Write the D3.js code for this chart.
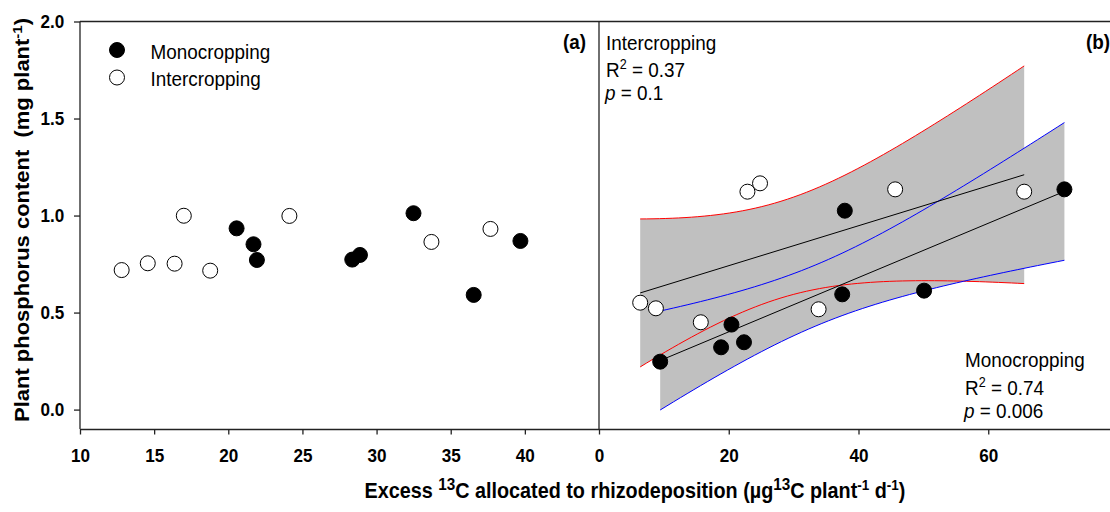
<!DOCTYPE html>
<meta charset="utf-8">
<html>
<head>
    <title>Plant P vs rhizodeposition</title>
    <script src="https://cdn.jsdelivr.net/npm/d3@7"></script>
</head>
<style>
    body{ margin:0; background:#fff; }
    svg{ display:block; }
    text{ font-family: "Liberation Sans", Arial, sans-serif; fill:#000; }
    .tick text{ font-weight: bold; font-size: 19px; }
    .domain, .tick line{ stroke:#222; stroke-width:1.3px; }
    .lbl{ font-size: 21px; }
    .ttl{ font-weight: bold; font-size: 22px; white-space: pre; }
</style>
<body>
<svg width="1110" height="512"></svg>
<script>
    // ---- data ----
    // panel (a)
    const aMonoX  = [20.56, 21.70, 21.93, 28.36, 28.88, 32.49, 36.55, 39.70];
    const aMonoY  = [0.934, 0.852, 0.771, 0.773, 0.797, 1.012, 0.591, 0.869];
    const aInterX = [12.81, 14.57, 16.38, 17.00, 18.78, 24.12, 33.70, 37.68];
    const aInterY = [0.719, 0.754, 0.752, 0.999, 0.716, 0.998, 0.864, 0.931];
    // panel (b)
    const bInterX = [6.35, 8.77, 15.69, 22.88, 24.82, 33.85, 45.65, 65.54];
    const bInterY = [0.551, 0.522, 0.450, 1.123, 1.166, 0.517, 1.135, 1.123];
    const bMonoX  = [9.43, 18.82, 20.42, 22.35, 37.49, 37.89, 50.11, 71.74];
    const bMonoY  = [0.247, 0.321, 0.438, 0.347, 0.594, 1.025, 0.613, 1.135];
    // ticks
    const yTicks  = [0, 0.5, 1.0, 1.5, 2.0];
    const xTicksA = [10, 15, 20, 25, 30, 35, 40];
    const xTicksB = [0, 20, 40, 60];
    const legendLabels = ["Monocropping", "Intercropping"];

    const svg = d3.select("svg");
    const yTop = 21.5, yBot = 429;
    const sx = 0.9;   // the original figure is a bit squeezed sideways

    const y  = d3.scaleLinear().domain([-0.1, 2.0]).range([yBot, yTop]);
    const xA = d3.scaleLinear().domain([10, 45]).range([80, 599]);
    const xB = d3.scaleLinear().domain([0, 80]).range([599, 1118]);

    // ***************************************
    //        regression + 95% confidence band
    // ***************************************
    function fit(xs, ys){
        const n = xs.length;
        const mx = d3.mean(xs), my = d3.mean(ys);
        let sxx = 0, sxy = 0, syy = 0;
        xs.forEach((v,i)=>{ sxx += (v-mx)**2; sxy += (v-mx)*(ys[i]-my); syy += (ys[i]-my)**2; });
        const b = sxy/sxx, a = my - b*mx;
        const s = Math.sqrt((syy - b*sxy)/(n-2));
        const t = 2.4469; // t(0.975, 6)
        const x0 = d3.min(xs), x1 = d3.max(xs);
        const band = d3.range(0, 61).map(k=>{
            const xv = x0 + (x1-x0)*k/60;
            const yh = a + b*xv;
            const se = s*Math.sqrt(1/n + (xv-mx)**2/sxx);
            return {x: xv, lo: yh - t*se, hi: yh + t*se};
        });
        return {a, b, x0, x1, band};
    }
    const fInter = fit(bInterX, bInterY);
    const fMono  = fit(bMonoX, bMonoY);

    const gB = svg.append("g");
    gB.append("clipPath").attr("id","clipB").append("rect")
        .attr("x", 599).attr("y", yTop).attr("width", 520).attr("height", yBot-yTop);
    const plotB = gB.append("g").attr("clip-path","url(#clipB)");

    const area = d3.area().x(d=>xB(d.x)).y0(d=>y(d.lo)).y1(d=>y(d.hi));
    [fInter, fMono].forEach(f=>{
        plotB.append("path").datum(f.band).attr("d", area).attr("fill", "#c0c0c0");
    });
    const lineHi = d3.line().x(d=>xB(d.x)).y(d=>y(d.hi));
    const lineLo = d3.line().x(d=>xB(d.x)).y(d=>y(d.lo));
    [[fInter, "#ff0000"], [fMono, "#0000ff"]].forEach(([f, c])=>{
        plotB.append("path").datum(f.band).attr("d", lineHi).attr("fill","none").attr("stroke", c).attr("stroke-width", 1);
        plotB.append("path").datum(f.band).attr("d", lineLo).attr("fill","none").attr("stroke", c).attr("stroke-width", 1);
    });
    [fInter, fMono].forEach(f=>{
        plotB.append("line")
            .attr("x1", xB(f.x0)).attr("y1", y(f.a + f.b*f.x0))
            .attr("x2", xB(f.x1)).attr("y2", y(f.a + f.b*f.x1))
            .attr("stroke", "#000").attr("stroke-width", 1);
    });

    // points
    const r = 7.5;
    function dots(g, xs, ys, xs_scale, filled){
        g.selectAll(null).data(xs).join("circle")
            .attr("cx", d=>xs_scale(d)).attr("cy", (d,i)=>y(ys[i]))
            .attr("r", r)
            .attr("fill", filled ? "#000" : "#fff")
            .attr("stroke", "#000").attr("stroke-width", 1);
    }
    dots(plotB, bInterX, bInterY, xB, false);
    dots(plotB, bMonoX, bMonoY, xB, true);

    const gA = svg.append("g");
    dots(gA, aInterX, aInterY, xA, false);
    dots(gA, aMonoX, aMonoY, xA, true);

    // ***************************************
    //        axes and frame
    // ***************************************
    svg.append("line").attr("x1", 80).attr("x2", 1110).attr("y1", yTop).attr("y2", yTop)
        .attr("stroke", "#222").attr("stroke-width", 1.3);
    svg.append("line").attr("x1", 599).attr("x2", 599).attr("y1", yTop).attr("y2", yBot)
        .attr("stroke", "#222").attr("stroke-width", 1.3);

    const yAxis = svg.append("g").attr("transform", "translate(80,0)")
        .call(d3.axisLeft(y).tickValues(yTicks).tickFormat(d3.format(".1f")).tickSize(6).tickSizeOuter(0));
    yAxis.selectAll(".tick text").attr("x", -17.5).attr("transform", `scale(${sx},1)`);

    const xAxisA = svg.append("g").attr("transform", `translate(0,${yBot})`)
        .call(d3.axisBottom(xA).tickValues(xTicksA).tickSize(5.5).tickSizeOuter(0));
    const xAxisB = svg.append("g").attr("transform", `translate(0,${yBot})`)
        .call(d3.axisBottom(xB).tickValues(xTicksB).tickSize(5.5).tickSizeOuter(0));
    [xAxisA, xAxisB].forEach(ax=>{
        ax.selectAll(".tick text").attr("y", 20).attr("dy", "0.71em").attr("transform", `scale(${sx},1)`);
    });
    yAxis.select(".domain").attr("d", `M0,${yTop}V${yBot}`);

    // ***************************************
    //        labels
    // ***************************************
    const yt = svg.append("text").attr("class","ttl")
        .attr("transform", `translate(29,220) scale(${sx},1) rotate(-90)`)
        .attr("text-anchor", "middle");
    yt.append("tspan").text("Plant phosphorus content  (mg plant");
    yt.append("tspan").attr("dy", -8).attr("font-size", 15).text("-1");
    yt.append("tspan").attr("dy", 8).text(")");

    const xt = svg.append("text").attr("class","ttl")
        .attr("transform", `translate(635,497.5) scale(${sx},1)`)
        .attr("text-anchor", "middle");
    xt.append("tspan").text("Excess ");
    xt.append("tspan").attr("dy", -8).attr("font-size", 17).text("13");
    xt.append("tspan").attr("dy", 8).text("C allocated to rhizodeposition (µg");
    xt.append("tspan").attr("dy", -8).attr("font-size", 17).text("13");
    xt.append("tspan").attr("dy", 8).text("C plant");
    xt.append("tspan").attr("dy", -8).attr("font-size", 15).text("-1");
    xt.append("tspan").attr("dy", 8).text(" d");
    xt.append("tspan").attr("dy", -8).attr("font-size", 15).text("-1");
    xt.append("tspan").attr("dy", 8).text(")");

    function label(x, yy, parts, opts={}){
        const t = svg.append("text").attr("class","lbl")
            .attr("transform", `translate(${x},${yy}) scale(${sx},1)`);
        if(opts.anchor) t.attr("text-anchor", opts.anchor);
        if(opts.bold) t.attr("font-weight", "bold");
        parts.forEach(p=>{
            const s = t.append("tspan").text(p.t);
            if(p.sup){ s.attr("dy", -8).attr("font-size", 14); }
            if(p.after){ s.attr("dy", 8); }
            if(p.it){ s.attr("font-style", "italic"); }
        });
        return t;
    }

    // legend (a)
    svg.append("circle").attr("cx", 117).attr("cy", 50).attr("r", r).attr("fill", "#000").attr("stroke","#000");
    svg.append("circle").attr("cx", 117).attr("cy", 77.5).attr("r", r).attr("fill", "#fff").attr("stroke","#000");
    label(150.5, 58.5, [{t: legendLabels[0]}]);
    label(150.5, 85.5, [{t: legendLabels[1]}]);

    label(586, 49, [{t:"(a)"}], {anchor:"end", bold:true});
    label(1110, 49, [{t:"(b)"}], {anchor:"end", bold:true});

    // panel (b) stats
    label(606, 50, [{t:"Intercropping"}]);
    label(606, 77.3, [{t:"R"}, {t:"2", sup:true}, {t:" = 0.37", after:true}]);
    label(605, 99.5, [{t:"p", it:true}, {t:" = 0.1"}]);

    label(965, 366.7, [{t:"Monocropping"}]);
    label(965, 395, [{t:"R"}, {t:"2", sup:true}, {t:" = 0.74", after:true}]);
    label(964, 417.5, [{t:"p", it:true}, {t:" = 0.006"}]);
</script>
</body>
</html>
